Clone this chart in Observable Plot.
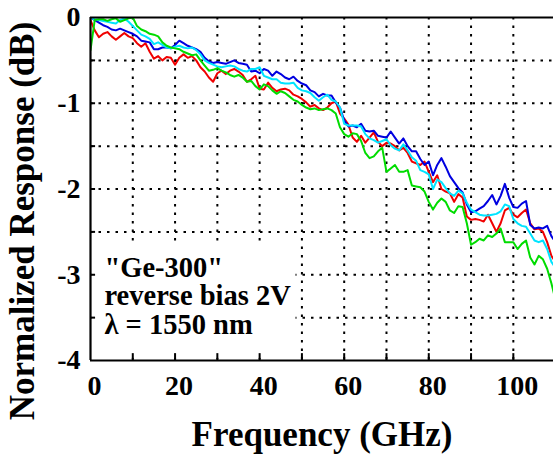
<!DOCTYPE html>
<html>
<head>
<meta charset="utf-8">
<script src="https://cdn.jsdelivr.net/npm/d3@7"></script>
<script src="https://cdn.jsdelivr.net/npm/@observablehq/plot@0.6"></script>
<style>
  html, body { margin: 0; padding: 0; background: #fff; }
  svg { display: block; }
</style>
</head>
<body>
<div id="chart"></div>
<script>
// Frequency grid (GHz)
const freq = [0,1,2,3,4,5,6,7,8,9,10,11,12,13,14,15,16,17,18,19,20,21,22,23,24,25,26,27,28,29,30,31,32,33,34,35,36,37,38,39,40,41,42,43,44,45,46,47,48,49,50,51,52,53,54,55,56,57,58,59,60,61,62,63,64,65,66,67,68,69,70,71,72,73,74,75,76,77,78,79,80,81,82,83,84,85,86,87,88,89,90,91,92,93,94,95,96,97,98,99,100,101,102,103,104,105,106,107,108,109,110];

// Normalized response (dB)
const blue = [0.0,-0.03,-0.06,-0.09,-0.11,-0.14,-0.15,-0.13,-0.15,-0.17,-0.19,-0.22,-0.27,-0.28,-0.29,-0.37,-0.37,-0.35,-0.35,-0.36,-0.32,-0.27,-0.30,-0.33,-0.35,-0.37,-0.40,-0.47,-0.51,-0.53,-0.52,-0.53,-0.54,-0.52,-0.50,-0.53,-0.54,-0.55,-0.63,-0.62,-0.65,-0.60,-0.62,-0.68,-0.63,-0.66,-0.70,-0.72,-0.69,-0.74,-0.77,-0.79,-0.85,-0.87,-0.92,-0.89,-0.91,-0.91,-0.99,-1.05,-1.20,-1.27,-1.26,-1.28,-1.24,-1.32,-1.33,-1.32,-1.38,-1.39,-1.40,-1.33,-1.40,-1.47,-1.41,-1.50,-1.56,-1.56,-1.65,-1.72,-1.68,-1.84,-1.72,-1.64,-1.74,-1.85,-1.92,-1.99,-2.04,-2.18,-2.27,-2.26,-2.23,-2.20,-2.14,-2.07,-2.18,-2.08,-1.94,-2.10,-2.21,-2.22,-2.17,-2.14,-2.42,-2.46,-2.45,-2.46,-2.43,-2.55,-2.62];
const cyan = [0.0,-0.02,-0.03,-0.04,-0.05,-0.06,-0.07,-0.03,-0.01,-0.05,-0.10,-0.15,-0.20,-0.22,-0.25,-0.31,-0.29,-0.32,-0.35,-0.36,-0.34,-0.33,-0.35,-0.36,-0.35,-0.38,-0.43,-0.50,-0.53,-0.55,-0.57,-0.58,-0.57,-0.56,-0.57,-0.60,-0.62,-0.63,-0.60,-0.60,-0.58,-0.68,-0.70,-0.72,-0.72,-0.76,-0.77,-0.77,-0.76,-0.82,-0.85,-0.86,-0.88,-0.93,-0.97,-0.93,-0.90,-0.96,-0.98,-1.05,-1.24,-1.26,-1.26,-1.26,-1.27,-1.36,-1.41,-1.43,-1.46,-1.44,-1.42,-1.49,-1.53,-1.55,-1.48,-1.55,-1.63,-1.67,-1.78,-1.80,-1.83,-2.00,-1.89,-1.92,-1.99,-2.05,-2.08,-2.02,-2.05,-2.16,-2.24,-2.27,-2.30,-2.31,-2.31,-2.30,-2.29,-2.26,-2.18,-2.20,-2.35,-2.40,-2.43,-2.44,-2.52,-2.60,-2.62,-2.60,-2.70,-2.85,-2.92];
const red = [-0.03,-0.15,-0.23,-0.19,-0.17,-0.22,-0.26,-0.22,-0.18,-0.22,-0.24,-0.30,-0.34,-0.30,-0.40,-0.48,-0.45,-0.50,-0.46,-0.47,-0.55,-0.47,-0.43,-0.47,-0.45,-0.50,-0.58,-0.63,-0.70,-0.75,-0.65,-0.62,-0.66,-0.62,-0.60,-0.63,-0.67,-0.75,-0.72,-0.68,-0.83,-0.84,-0.76,-0.82,-0.86,-0.84,-0.83,-0.85,-0.90,-0.92,-0.95,-0.99,-1.04,-1.02,-1.06,-1.08,-1.05,-1.00,-0.98,-1.12,-1.18,-1.25,-1.40,-1.45,-1.38,-1.46,-1.40,-1.34,-1.45,-1.50,-1.46,-1.47,-1.50,-1.55,-1.52,-1.58,-1.68,-1.70,-1.72,-1.68,-1.80,-1.92,-1.84,-2.00,-2.03,-2.05,-2.15,-2.06,-2.10,-2.32,-2.36,-2.35,-2.36,-2.38,-2.30,-2.40,-2.50,-2.40,-2.25,-2.22,-2.30,-2.33,-2.28,-2.24,-2.40,-2.47,-2.46,-2.50,-2.62,-2.78,-2.85];
const green = [-0.38,-0.03,-0.02,-0.02,-0.04,-0.02,-0.01,-0.05,-0.03,-0.01,0.0,-0.10,-0.14,-0.16,-0.19,-0.20,-0.22,-0.29,-0.33,-0.35,-0.36,-0.37,-0.40,-0.42,-0.44,-0.43,-0.50,-0.56,-0.62,-0.61,-0.59,-0.62,-0.64,-0.67,-0.69,-0.67,-0.70,-0.75,-0.74,-0.80,-0.84,-0.78,-0.80,-0.85,-0.89,-0.86,-0.88,-0.92,-0.96,-0.98,-1.02,-1.05,-1.07,-1.06,-1.08,-1.07,-1.06,-1.08,-1.12,-1.28,-1.36,-1.39,-1.35,-1.36,-1.44,-1.58,-1.64,-1.62,-1.56,-1.52,-1.80,-1.76,-1.72,-1.80,-1.80,-1.78,-1.96,-1.97,-1.98,-2.03,-2.15,-2.24,-2.16,-2.11,-2.15,-2.25,-2.28,-2.20,-2.21,-2.40,-2.65,-2.62,-2.58,-2.60,-2.54,-2.56,-2.52,-2.46,-2.62,-2.62,-2.62,-2.70,-2.64,-2.60,-2.80,-2.88,-2.78,-2.82,-2.93,-3.10,-3.30];

// Axis ticks and labels
const xTickLabels = [0, 20, 40, 60, 80, 100];
const xGrid = [10, 20, 30, 40, 50, 60, 70, 80, 90, 100];
const xMinorTicks = [10, 20, 30, 40, 50, 60, 70, 80, 90, 100];
const yTickLabels = [0, -1, -2, -3, -4];
const yGrid = [-0.5, -1, -1.5, -2, -2.5, -3, -3.5];
const yMinorTicks = [-0.5, -1, -1.5, -2, -2.5, -3, -3.5];
const noteLines = ['"Ge-300"', 'reverse bias 2V', 'λ = 1550 nm'];
const xTitle = "Frequency (GHz)";
const yTitle = "Normalized Response (dB)";

const colors = { red: "#f00000", blue: "#0000e0", cyan: "#00e4ff", green: "#00dc00" };
const seriesOrder = [["red", red], ["blue", blue], ["cyan", cyan], ["green", green]];
const rows = (vals) => freq.map((f, i) => ({ f, v: vals[i] }));

const FONT = "'Liberation Serif', 'Times New Roman', serif";

const chart = Plot.plot({
  width: 553,
  height: 455,
  marginLeft: 90,
  marginRight: 0,
  marginTop: 17,
  marginBottom: 95,
  style: { fontFamily: FONT, fontWeight: "bold", background: "#fff", overflow: "visible" },
  x: { domain: [0, 109.5] },
  y: { domain: [-4, 0] },
  marks: [
    // dotted grid
    Plot.ruleX(xGrid, { stroke: "#000", strokeWidth: 2, strokeDasharray: "2.5,6" }),
    Plot.ruleY(yGrid, { stroke: "#000", strokeWidth: 2, strokeDasharray: "2.5,6" }),
    // curves
    ...seriesOrder.map(([name, vals]) =>
      Plot.line(rows(vals), { x: "f", y: "v", stroke: colors[name], strokeWidth: 2, clip: true })
    ),
    // annotation box
    Plot.rect([0], { x1: 0.35, x2: 48.6, y1: -3.975, y2: -2.62, fill: "#fff" }),
    Plot.text([noteLines.join("\n")], {
      x: 3.3, y: -2.79, text: d => d, textAnchor: "start", lineAnchor: "top",
      fontSize: 28.5, lineHeight: 1, fill: "#000", fontWeight: "bold"
    }),
    // frame lines
    Plot.ruleY([0], { stroke: "#000", strokeWidth: 2.2 }),
    Plot.ruleY([-4], { stroke: "#000", strokeWidth: 2.2 }),
    Plot.ruleX([0], { stroke: "#000", strokeWidth: 2.2 }),
    // inward ticks
    Plot.ruleX(xMinorTicks, { y1: -4, y2: -3.92, stroke: "#000", strokeWidth: 2 }),
    Plot.ruleY(yMinorTicks, { x1: 0, x2: 1.2, stroke: "#000", strokeWidth: 2 }),
    // axes
    Plot.axisX(xTickLabels, { tickSize: 0, tickPadding: 15, fontSize: 28, dx: 4, label: null, fontWeight: "bold" }),
    Plot.axisY(yTickLabels, { tickSize: 0, tickPadding: 10, fontSize: 28, label: null, fontWeight: "bold",
      tickFormat: d => d === 0 ? "0" : "-" + Math.abs(d) }),
    // axis titles
    Plot.text([xTitle], { frameAnchor: "bottom", dy: 85, lineAnchor: "bottom", fontSize: 35, fontWeight: "bold", fill: "#000" }),
    Plot.text([yTitle], { frameAnchor: "left", textAnchor: "middle", rotate: -90, dx: -57, dy: 32, lineAnchor: "bottom", fontSize: 35, fontWeight: "bold", fill: "#000" })
  ]
});
document.getElementById("chart").appendChild(chart);
</script>
</body>
</html>
